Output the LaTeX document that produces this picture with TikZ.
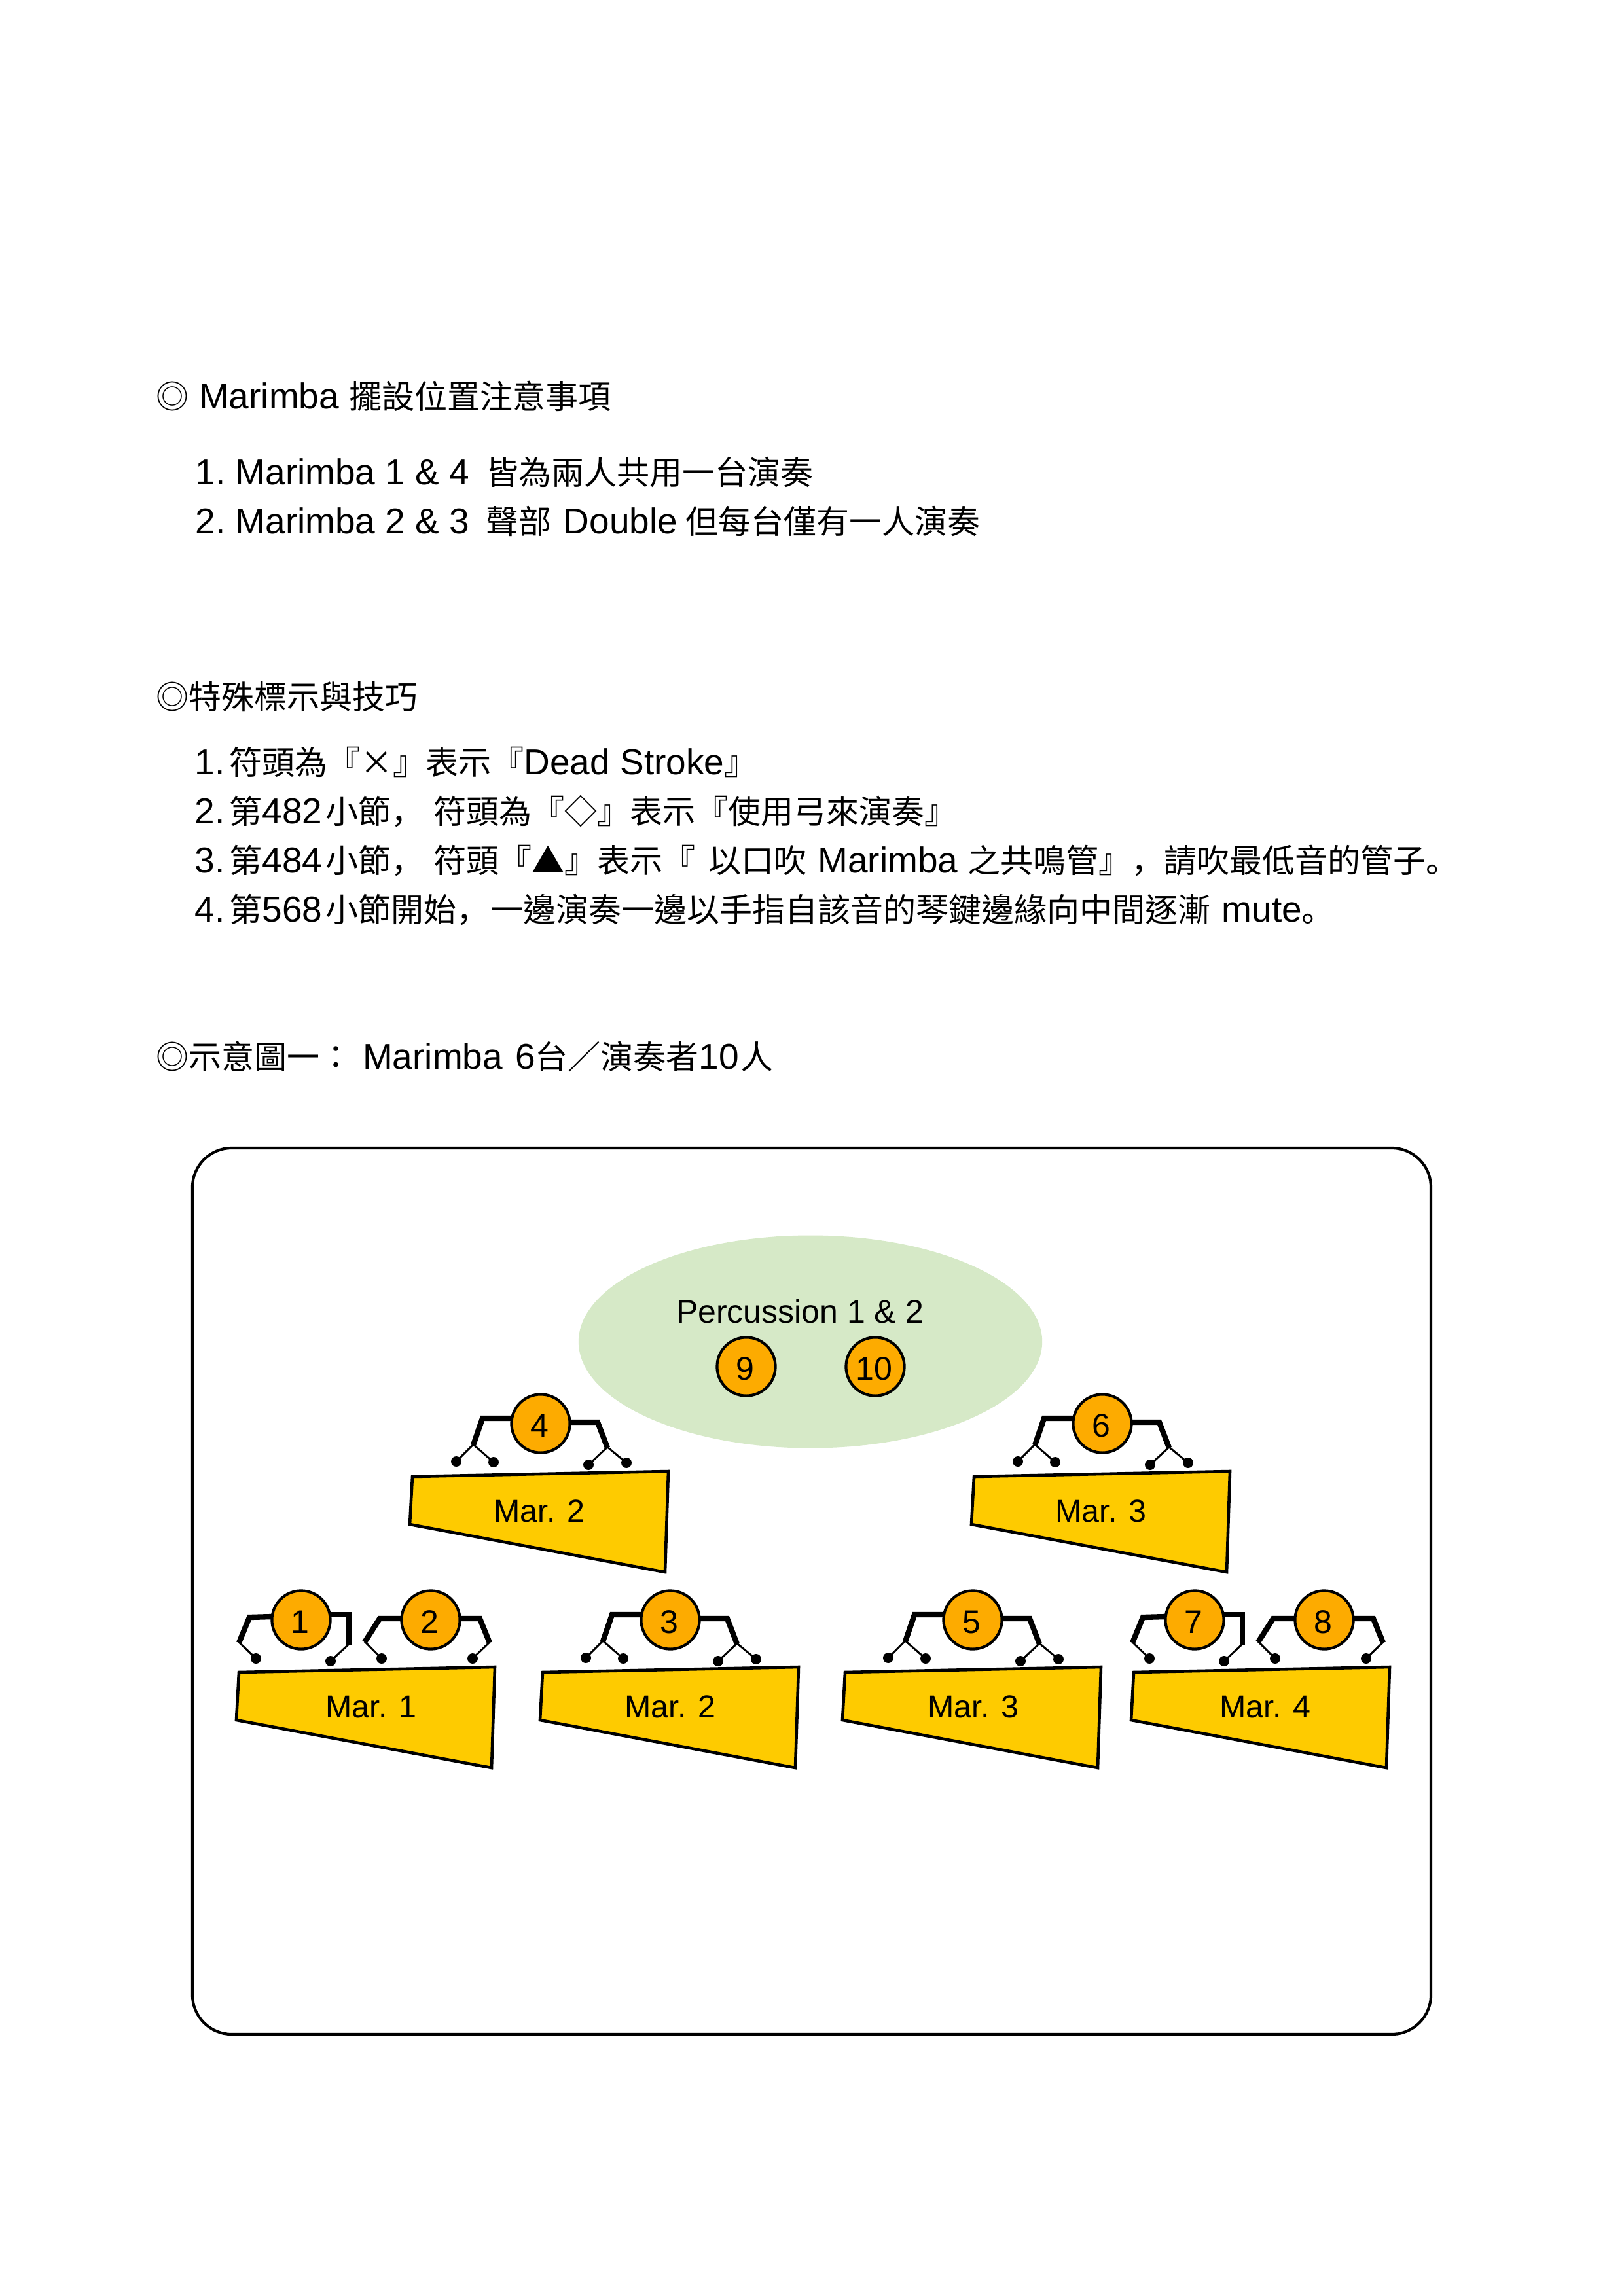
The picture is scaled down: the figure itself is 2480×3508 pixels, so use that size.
\documentclass[tikz,border=0pt]{standalone}
\usepackage{fontspec}
\usetikzlibrary{shapes.geometric}
\setmainfont{Liberation Sans}
\newfontfamily\zhfont{Noto Sans CJK TC}
\newfontfamily\zpfont{Noto Sans CJK JP}
\newcommand{\zh}[1]{{\fontsize{12}{16}\zhfont #1}}
\newcommand{\zp}[1]{{\fontsize{12}{16}\zpfont #1}}
\newcommand{\gap}[1]{\kern #1\dimexpr 0.24pt\relax}
\definecolor{perccolor}{HTML}{D6E9C7}
\definecolor{headcolor}{HTML}{FDAB00}
\definecolor{barcolor}{HTML}{FECB00}
\tikzset{
  notetext/.style = {anchor=base west, inner sep=0pt,
                     font=\fontsize{13.2}{16}\selectfont},
  framebox/.style = {draw=black, line width=1pt, rounded corners=14.4pt},
  percarea/.style = {ellipse, fill=perccolor, minimum width=170pt,
                     minimum height=78pt, inner sep=0pt},
  player/.style   = {circle, draw=black, fill=headcolor, line width=1pt,
                     minimum size=21.4pt, inner sep=0pt,
                     text height=10pt, text depth=0pt,
                     execute at begin node={\kern-0.8pt},
                     font=\fontsize{12}{14}\selectfont},
  barbody/.style  = {draw=black, fill=barcolor, line width=1.1pt},
  barlabel/.style = {anchor=base, inner sep=0pt,
                     font=\fontsize{11.6}{14}\selectfont},
  perclabel/.style= {barlabel, font=\fontsize{12}{14}\selectfont},
  armline/.style  = {line width=2pt},
  stick/.style    = {line width=0.7pt},
  malletdot/.style= {fill=black},
}
\begin{document}
\begin{tikzpicture}[x=0.24pt,y=-0.24pt]
  \useasboundingbox (0,0) rectangle (2480,3508);

  %% ---- Notes on placement ----
  \node[notetext] (headA) at (238,625) {\zh{◎} Marimba \zh{擺設位置注意事項}};
  \node[notetext] (noteA1) at (298,741)
        {1.\gap{15}Marimba 1 \& 4 \gap{10}\zh{皆為兩人共用一台演奏}};
  \node[notetext] (noteA2) at (298,816)
        {2.\gap{15}Marimba 2 \& 3 \gap{10}\zh{聲部} \gap{3}Double \gap{-3}\zh{但每台僅有一人演奏}};

  %% ---- Special marks ----
  \node[notetext] (headB) at (238,1083) {\zh{◎特殊標示與技巧}};
  \node[notetext] (noteB1) at (297,1183)
        {1.\gap{7}\zh{符頭為}\zp{『}\zh{\makebox[12pt]{×}}\zp{』}\zh{表示}\zp{『}Dead Stroke\zp{』}};
  \node[notetext] (noteB2) at (297,1258)
        {2.\gap{7}\zh{第}482\gap{5}\zh{小節}\zp{，} \zh{符頭為}\zp{『}\zh{◇}\zp{』}\zh{表示}\zp{『}\zh{使用弓來演奏}\zp{』}};
  \node[notetext] (noteB3) at (297,1333)
        {3.\gap{7}\zh{第}484\gap{5}\zh{小節}\zp{，} \zh{符頭}\zp{『}\zh{▲}\zp{』}\zh{表示}\zp{『} \gap{4}\zh{以口吹} \gap{2}Marimba \zh{之共鳴管}\zp{』}\zp{，}\zh{請吹最低音的管子}\zp{。}};
  \node[notetext] (noteB4) at (297,1408)
        {4.\gap{7}\zh{第}568\gap{5}\zh{小節開始}\zp{，}\gap{2}\zh{一邊演奏一邊以手指自該音的琴鍵邊緣向中間逐漸} \gap{2}mute\zp{。}};

  %% ---- Figure title ----
  \node[notetext] (headC) at (238,1633)
        {\zh{◎示意圖一：} Marimba \gap{4}6\zh{台／演奏者}10\gap{2}\zh{人}};

  %% ---- Stage outline ----
  \draw[framebox] (294,1754) rectangle (2186,3108);

  %% ---- Percussion ----
  \node[percarea] (perc) at (1238,2050) {};
  \node[perclabel] (perctext) at (1222,2021) {Percussion 1 \& 2};
  \node[player] (p9) at (1140,2088) {9};
  \node[player] (p10) at (1337,2088) {10};

  %% ---- Marimbas ----
  \foreach \id/\dx/\dy/\tx/\lab in {a/0/0/824/Mar. 2, b/858/0/1682/Mar. 3,
      c/-265/299/567/Mar. 1, d/199/299/1024/Mar. 2,
      e/661/299/1487/Mar. 3, f/1102/299/1933/Mar. 4}{
    \draw[barbody,shift={(\dx,\dy)}] (630,2256) -- (1021,2248)
        -- (1016,2402) -- (626,2329) -- cycle;
    \node[barlabel] (bar\id) at (\tx,2325+\dy) {\lab};
  }

  %% ---- Players with two mallets in each hand ----
  \foreach \id/\hx/\hy in {4/826/2175, 6/1684/2175, 3/1024/2475, 5/1486/2475}{
    \node[player] (p\id) at (\hx,\hy) {\id};
    \begin{scope}[shift={(p\id)}]
      \draw[armline] (-44,-8) -- (-89,-8) -- (-103,33);
      \draw[armline] (44,-2) -- (87,-2) -- (102,37);
      \draw[stick] (-129,58) -- (-103,32) -- (-72,59);
      \draw[stick] (73,63) -- (102,36) -- (131,60);
      \foreach \mx/\my in {-129/58, -72/59, 73/63, 131/60}
        \path[malletdot] (\mx,\my) circle[radius=8];
    \end{scope}
  }

  %% ---- Players 1 and 7 ----
  \foreach \id/\hx in {1/460, 7/1825}{
    \node[player] (p\id) at (\hx,2475) {\id};
    \begin{scope}[shift={(p\id)}]
      \draw[armline] (-44,-5) -- (-79,-4) -- (-95,35);
      \draw[armline] (44,-8) -- (73,-8) -- (73,38);
      \draw[stick] (-95,34) -- (-69,59);
      \draw[stick] (73,37) -- (45,63);
      \foreach \mx/\my in {-69/59, 45/63}
        \path[malletdot] (\mx,\my) circle[radius=8];
    \end{scope}
  }

  %% ---- Players 2 and 8 ----
  \foreach \id/\hx in {2/658, 8/2023}{
    \node[player] (p\id) at (\hx,2475) {\id};
    \begin{scope}[shift={(p\id)}]
      \draw[armline] (-44,-2) -- (-78,-2) -- (-101,34);
      \draw[armline] (44,-2) -- (75,-2) -- (90,35);
      \draw[stick] (-101,33) -- (-75,59);
      \draw[stick] (90,34) -- (64,59);
      \foreach \mx/\my in {-75/59, 64/59}
        \path[malletdot] (\mx,\my) circle[radius=8];
    \end{scope}
  }

\end{tikzpicture}
\end{document}
